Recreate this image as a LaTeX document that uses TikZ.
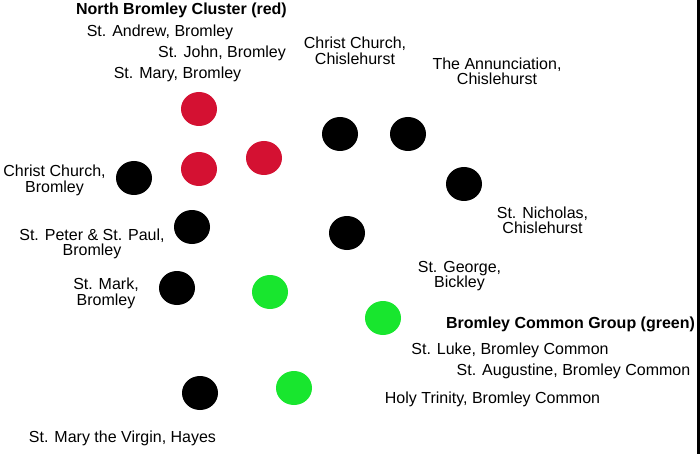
\documentclass[tikz,border=0pt]{standalone}
\usepackage{fontspec}
\setmainfont{Liberation Sans}
\usetikzlibrary{shapes.geometric}
\definecolor{clusterred}{RGB}{212,17,50}
\definecolor{groupgreen}{RGB}{24,230,46}
\tikzset{
    church/.style={ellipse, inner sep=0pt, minimum width=36pt, minimum height=34pt},
    lbl/.style={font=\fontsize{16}{15.5}\selectfont, align=center, inner sep=0pt, anchor=base},
    heading/.style={lbl, font=\fontsize{16}{15.5}\selectfont\bfseries}
}
\begin{document}
\begin{tikzpicture}[x=1pt, y=-1pt]
        \useasboundingbox (0,0) rectangle (700,454);
        \draw[line width=3pt] (698.5,0) -- (698.5,454);

        % churches
        \foreach \n/\x/\y/\c in {andrew/199/109/clusterred, john/264/158/clusterred, mary/199/169/clusterred,
                ccbromley/134/178/black, peterpaul/192/227/black, mark/177/288/black,
                ccchisle/340/134/black, annunciation/408/134/black, nicholas/464/184/black,
                george/347/233/black, hayes/200/393/black,
                luke/270/292/groupgreen, augustine/383/318/groupgreen, trinity/294/388/groupgreen}{
            \node[church, fill=\c] (\n) at (\x, \y) {};
        }

        % labels (base = last line)
        \node[heading] (hred) at (181.5,15) {North Bromley Cluster (red)};
        \node[lbl] (landrew) at (160,37) {St. Andrew, Bromley};
        \node[lbl] (ljohn) at (222,58) {St. John, Bromley};
        \node[lbl] (lmary) at (177.5,79) {St. Mary, Bromley};

        \node[lbl] (lccbromley) at (54.5,192.5) {Christ Church,\\Bromley};
        \node[lbl] (lpeterpaul) at (92,255.5) {St. Peter \& St. Paul,\\Bromley};
        \node[lbl] (lmark) at (106,305) {St. Mark,\\Bromley};
        \node[lbl] (lhayes) at (122.5,442) {St. Mary the Virgin, Hayes};
        \node[lbl] (lccchisle) at (355,64.5) {Christ Church,\\Chislehurst};
        \node[lbl] (lannunciation) at (497,85) {The Annunciation,\\Chislehurst};
        \node[lbl] (lnicholas) at (542.5,233.5) {St. Nicholas,\\Chislehurst};
        \node[lbl] (lgeorge) at (459.5,287.5) {St. George,\\Bickley};

        \node[heading] (hgreen) at (570.5,328) {Bromley Common Group (green)};
        \node[lbl] (lluke) at (510,354.5) {St. Luke, Bromley Common};
        \node[lbl] (laugustine) at (573.5,375.5) {St. Augustine, Bromley Common};
        \node[lbl] (ltrinity) at (492.5,403) {Holy Trinity, Bromley Common};
\end{tikzpicture}
\end{document}
